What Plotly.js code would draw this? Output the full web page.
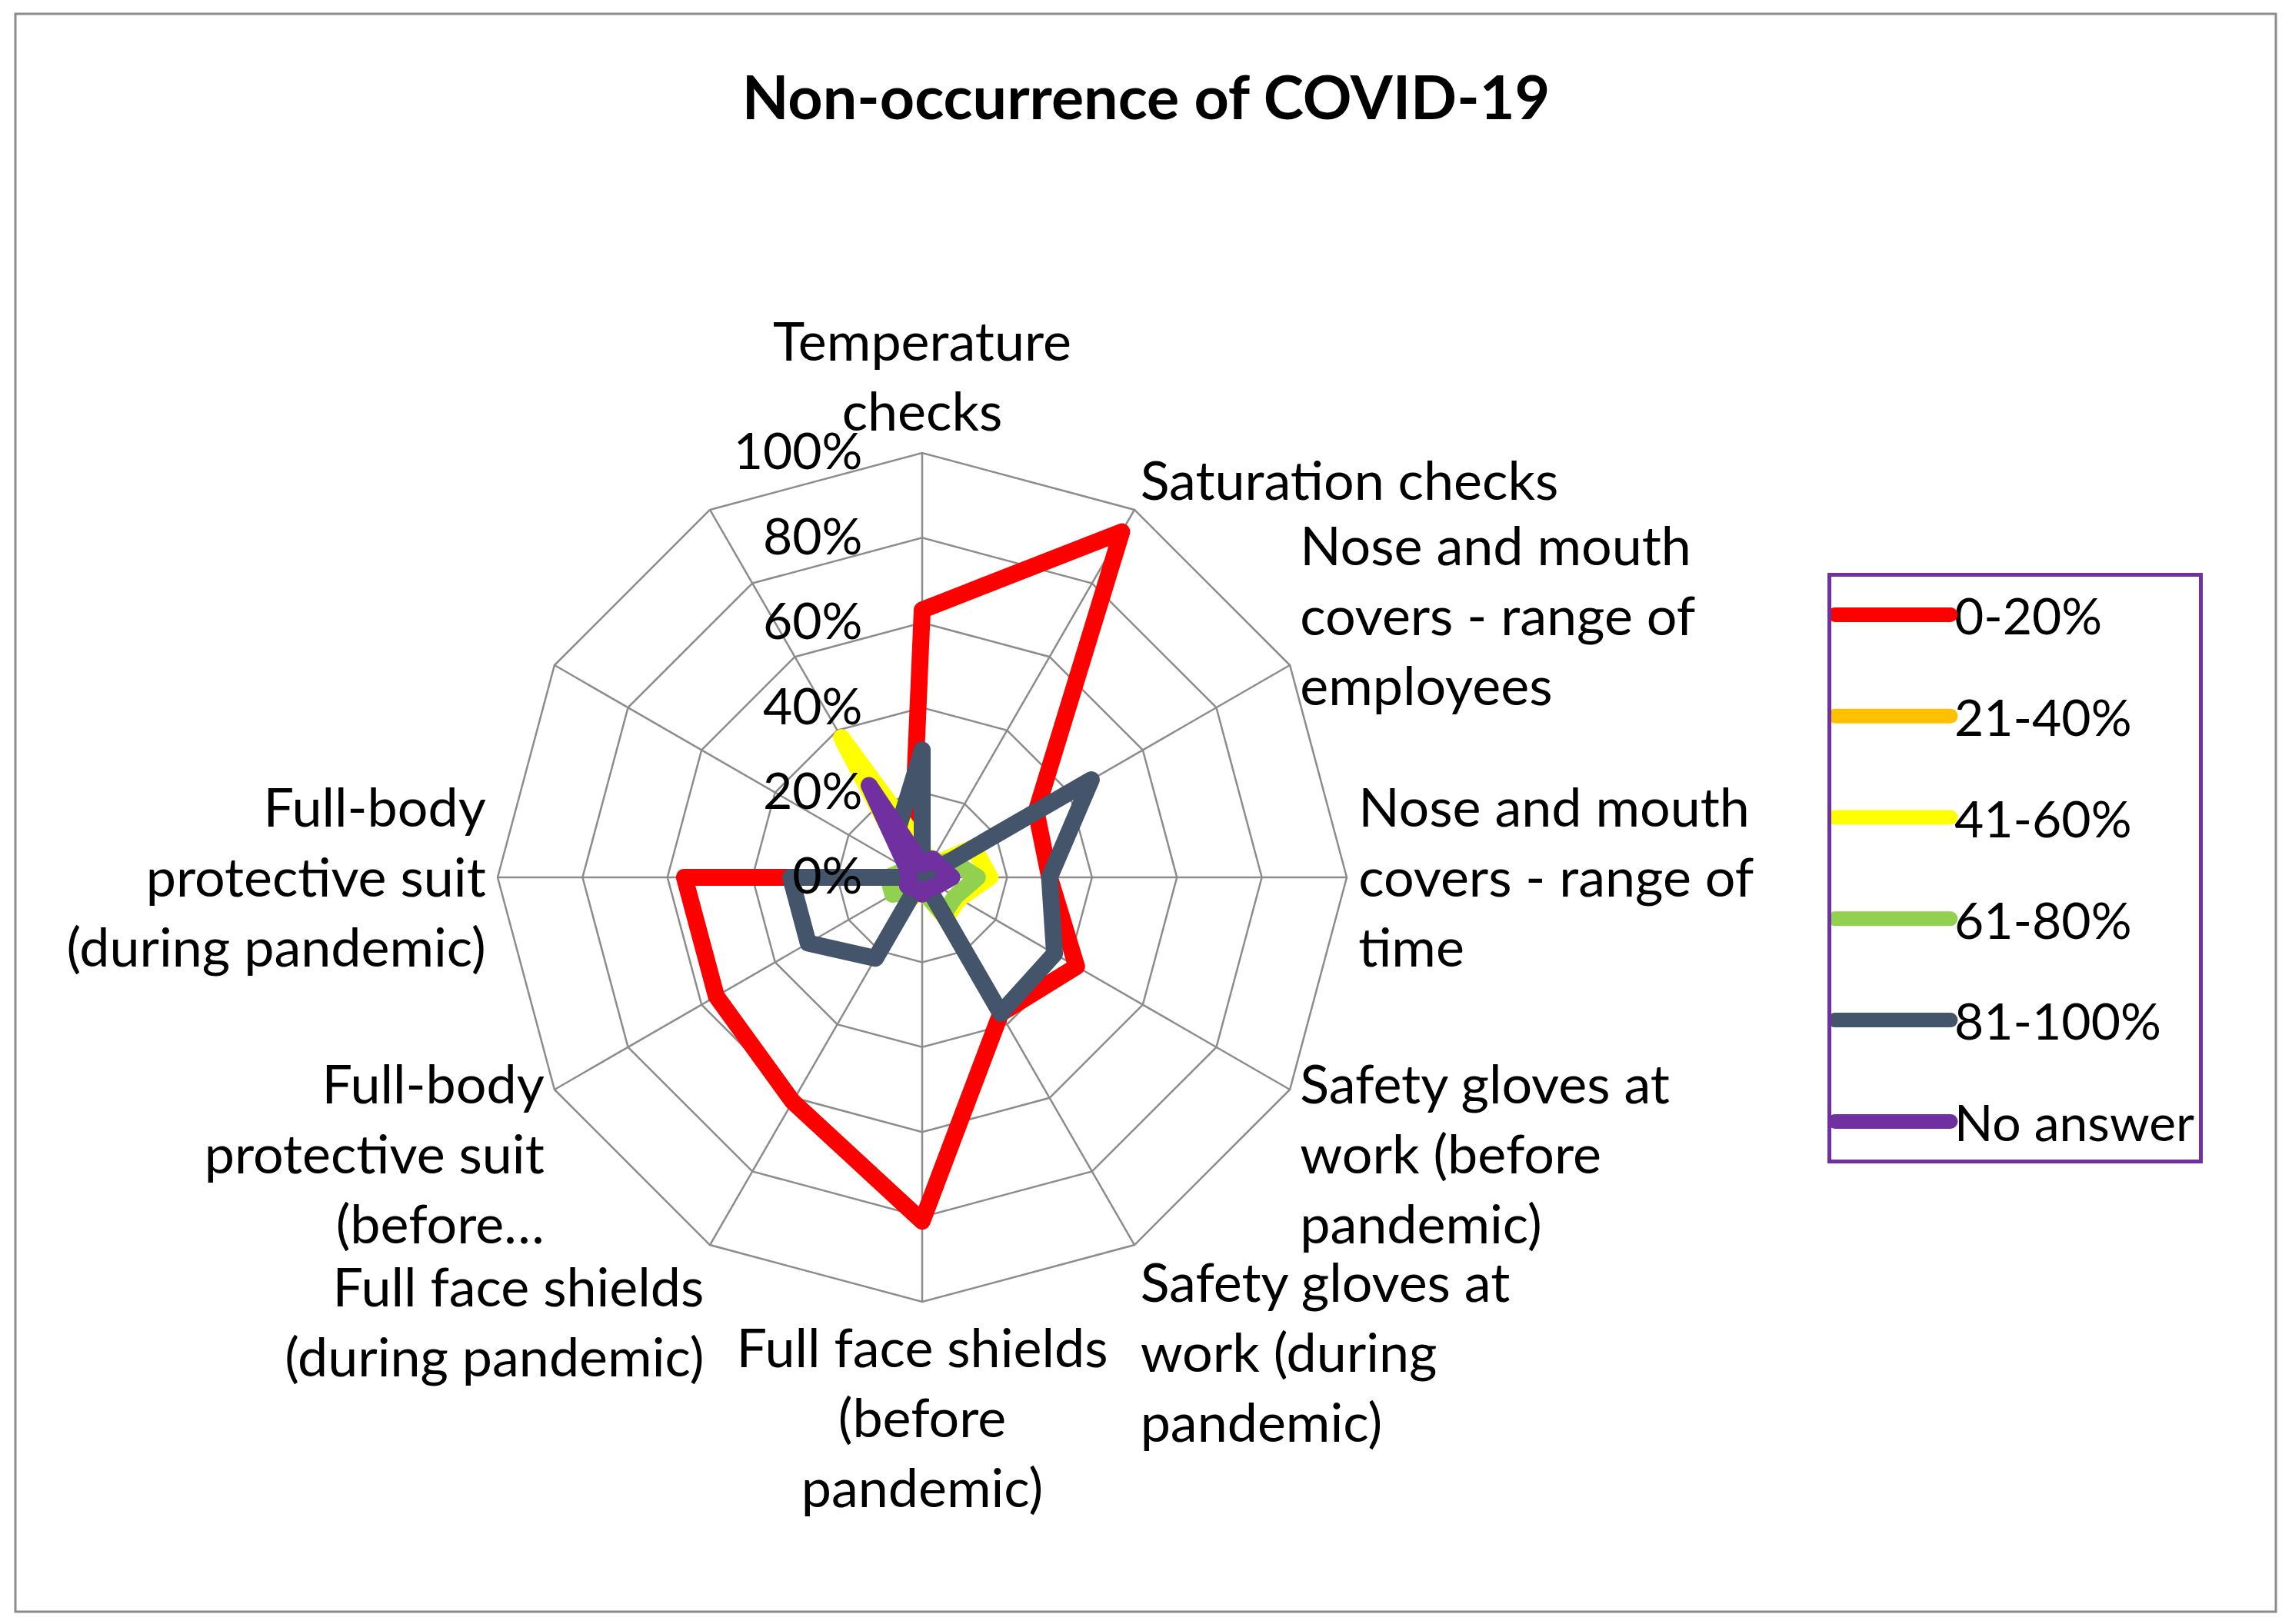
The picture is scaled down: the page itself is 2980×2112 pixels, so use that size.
<!DOCTYPE html>
<html>
<head>
<meta charset="utf-8">
<script src="https://cdn.plot.ly/plotly-3.0.1.min.js"></script>
<style>
  html, body { margin: 0; padding: 0; background: #ffffff; }
  #chart { width: 2980px; height: 2112px; }
  .polarlayer .js-line, .scatterlayer .js-line { stroke-linejoin: round; stroke-linecap: round; stroke-width: 22px !important; }
  .legend .legendlines path { stroke-linecap: round; stroke-width: 19px !important; }
</style>
</head>
<body>
<div id="chart"></div>
<script>
// Categories (clockwise from top); the last two spokes carry no label
const categories = [
  "Temperature<br>checks",
  "Saturation checks",
  "Nose and mouth<br>covers - range of<br>employees",
  "Nose and mouth<br>covers - range of<br>time",
  "Safety gloves at<br>work (before<br>pandemic)",
  "Safety gloves at<br>work (during<br>pandemic)",
  "Full face shields<br>(before<br>pandemic)",
  "Full face shields<br>(during pandemic)",
  "Full-body<br>protective suit<br>(before…",
  "Full-body<br>protective suit<br>(during pandemic)",
  "\u200b",
  "\u200b\u200b"
];

// Series values (%), one per category
const seriesNames = ["0-20%", "21-40%", "41-60%", "61-80%", "81-100%", "No answer"];
const s0_20   = [63, 94, 31, 30, 42, 37, 81, 61, 56, 56, 0, 5];
const s21_40  = [2, 2, 2, 3, 2, 2, 2, 2, 2, 2, 2, 3];
const s41_60  = [7, 3, 14, 16, 10, 11, 3, 6, 5, 5, 3, 38];
const s61_80  = [3, 3, 8, 13, 9, 10, 3, 3, 8, 8, 4, 4];
const s81_100 = [30, 0, 46, 30, 36, 37, 0, 22, 31, 31, 0, 12];
const sNoAns  = [3, 5, 5, 7, 4, 3, 4, 3, 4, 3, 4, 25];
const radialTicks = [0, 20, 40, 60, 80, 100];

const colors = ["#FF0000", "#FFC000", "#FFFF00", "#92D050", "#44546A", "#7030A0"];
const allSeries = [s0_20, s21_40, s41_60, s61_80, s81_100, sNoAns];

const FONT = "Lato, 'Open Sans', sans-serif";
const closeLoop = a => a.concat([a[0]]);

const traces = allSeries.map((vals, i) => ({
  type: "scatterpolar",
  mode: "lines",
  name: seriesNames[i],
  r: closeLoop(vals),
  theta: closeLoop(categories),
  line: { color: colors[i], width: 19 },
  legendgroup: "g" + i,
  hoverinfo: "skip"
}));

const gridCol = "#8c8c8c";

const layout = {
  width: 2980,
  height: 2112,
  margin: { l: 0, r: 0, t: 0, b: 0 },
  paper_bgcolor: "#ffffff",
  plot_bgcolor: "#ffffff",
  font: { family: FONT, size: 70, color: "#000000" },
  title: {
    text: "<b>Non-occurrence of COVID-19</b>",
    font: { family: FONT, size: 79, color: "#000000" },
    x: 0.5, xanchor: "center",
    y: 1 - 127 / 2112, yanchor: "middle"
  },
  showlegend: true,
  legend: {
    x: 2376 / 2980, xanchor: "left",
    y: 1 - 745 / 2112, yanchor: "top",
    bordercolor: "#7030A0",
    borderwidth: 5,
    bgcolor: "#ffffff",
    font: { family: FONT, size: 66, color: "#000000" },
    traceorder: "grouped",
    tracegroupgap: 43,
    itemwidth: 150
  },
  polar: {
    domain: {
      x: [(1199 - 552) / 2980, (1199 + 552) / 2980],
      y: [(2112 - 1141 - 552) / 2112, (2112 - 1141 + 552) / 2112]
    },
    bgcolor: "#ffffff",
    gridshape: "linear",
    angularaxis: {
      type: "category",
      categoryorder: "array",
      categoryarray: categories,
      direction: "clockwise",
      rotation: 90,
      ticks: "",
      showline: true,
      linecolor: gridCol,
      linewidth: 2.5,
      gridcolor: gridCol,
      gridwidth: 2.5,
      tickfont: { family: FONT, size: 70, color: "#000000" }
    },
    radialaxis: {
      range: [0, 100],
      tickmode: "array",
      tickvals: radialTicks,
      ticktext: radialTicks.map(v => v + "%"),
      angle: 90,
      side: "counterclockwise",
      tickangle: 90,
      showline: false,
      ticks: "outside",
      ticklen: 54,
      tickcolor: "rgba(0,0,0,0)",
      gridcolor: gridCol,
      gridwidth: 2.5,
      tickfont: { family: FONT, size: 66, color: "#000000" }
    }
  },
  shapes: [{
    type: "rect", xref: "paper", yref: "paper",
    x0: 20 / 2980, x1: 2959 / 2980,
    y0: 1 - 2096 / 2112, y1: 1 - 18 / 2112,
    line: { color: "#8c8c8c", width: 3 },
    fillcolor: "rgba(0,0,0,0)",
    layer: "below"
  }]
};

Plotly.newPlot("chart", traces, layout, { staticPlot: true, displayModeBar: false });
</script>
</body>
</html>
